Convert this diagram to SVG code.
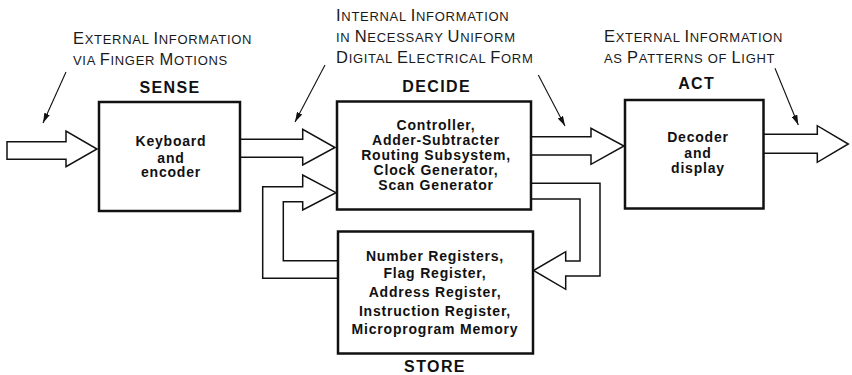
<svg xmlns="http://www.w3.org/2000/svg" width="852" height="375" viewBox="0 0 852 375">
  <style>
    .box { fill: #fff; stroke: #111; stroke-width: 2.5; }
    .pipe { fill: #fff; stroke: #111; stroke-width: 1.5; stroke-linejoin: miter; }
    .ptr { fill: none; stroke: #111; stroke-width: 1.1; }
    .ann { font-family: "Liberation Sans", Arial, sans-serif; font-size: 13px; fill: #1a1a1a; letter-spacing: 0.7px; }
    .ann .cap { font-size: 16.5px; }
    .title { font-family: "Liberation Sans", Arial, sans-serif; font-weight: bold; font-size: 16px; fill: #111; letter-spacing: 1.4px; text-anchor: middle; }
    .body { font-family: "Liberation Sans", Arial, sans-serif; font-weight: bold; font-size: 14px; fill: #111; letter-spacing: 0.8px; text-anchor: middle; }
  </style>
  <defs>
    <marker id="tip" viewBox="0 0 10 6" refX="10" refY="3" markerWidth="10" markerHeight="6" markerUnits="userSpaceOnUse" orient="auto">
      <path d="M0,0 L10,3 L0,6 Z" fill="#111"/>
    </marker>
  </defs>
  <rect width="852" height="375" fill="#fff"/>

  <!-- Annotations -->
  <g id="annotations">
    <text class="ann" x="73" y="44.3"><tspan class="cap">E</tspan>XTERNAL <tspan class="cap">I</tspan>NFORMATION</text>
    <text class="ann" x="73" y="65">VIA <tspan class="cap">F</tspan>INGER <tspan class="cap">M</tspan>OTIONS</text>

    <text class="ann" x="336" y="21"><tspan class="cap">I</tspan>NTERNAL <tspan class="cap">I</tspan>NFORMATION</text>
    <text class="ann" x="336" y="41.7">IN <tspan class="cap">N</tspan>ECESSARY <tspan class="cap">U</tspan>NIFORM</text>
    <text class="ann" x="336" y="63.3"><tspan class="cap">D</tspan>IGITAL <tspan class="cap">E</tspan>LECTRICAL <tspan class="cap">F</tspan>ORM</text>

    <text class="ann" x="604" y="41.7"><tspan class="cap">E</tspan>XTERNAL <tspan class="cap">I</tspan>NFORMATION</text>
    <text class="ann" x="604" y="62.7">AS <tspan class="cap">P</tspan>ATTERNS OF <tspan class="cap">L</tspan>IGHT</text>
  </g>

  <!-- Connectors: hollow data paths and pointer lines -->
  <g id="connectors">
    <polygon class="pipe" points="7,141.7 66,141.7 66,131 97,149 66,166.7 66,159.3 7,159.3"/>
    <polyline class="pipe" points="240,139.3 302.7,139.3 302.7,129.3 335,147.5 302.7,165 302.7,157.3 240,157.3"/>
    <polyline class="pipe" points="531,136.7 591,136.7 591,128.3 624,146 591,164.3 591,155 531,155"/>
    <polyline class="pipe" points="763.5,134.3 817.3,134.3 817.3,125.7 848.3,144 817.3,162.3 817.3,153.3 763.5,153.3"/>
    <!-- DECIDE to STORE loop -->
    <polyline class="pipe" points="531,183.3 600,183.3 600,276 565.7,276 565.7,289.3 533.5,270.5 565.7,251.7 565.7,261 580,261 580,199 531,199"/>
    <!-- STORE to DECIDE loop -->
    <polyline class="pipe" points="338,278.3 262.7,278.3 262.7,186.7 302.7,186.7 302.7,175 336,192.7 302.7,210 302.7,201.7 283.3,201.7 283.3,260.7 338,260.7"/>

    <line class="ptr" x1="66" y1="72" x2="43" y2="123" marker-end="url(#tip)"/>
    <line class="ptr" x1="325" y1="65" x2="295" y2="122" marker-end="url(#tip)"/>
    <line class="ptr" x1="538.3" y1="75" x2="565" y2="126" marker-end="url(#tip)"/>
    <line class="ptr" x1="775" y1="68.3" x2="798.3" y2="125" marker-end="url(#tip)"/>
  </g>

  <g id="sense">
    <text class="title" x="170" y="92.7">SENSE</text>
    <rect class="box" x="99" y="102" width="141" height="109"/>
    <text class="body" x="171" y="145.5">Keyboard</text>
    <text class="body" x="171" y="162.5">and</text>
    <text class="body" x="171" y="177">encoder</text>
  </g>

  <g id="decide">
    <text class="title" x="436.7" y="91.7">DECIDE</text>
    <rect class="box" x="337" y="101.5" width="194" height="108"/>
    <text class="body" x="436" y="130">Controller,</text>
    <text class="body" x="436" y="144.7">Adder-Subtracter</text>
    <text class="body" x="436" y="159.7">Routing Subsystem,</text>
    <text class="body" x="436" y="175">Clock Generator,</text>
    <text class="body" x="436" y="190">Scan Generator</text>
  </g>

  <g id="act">
    <text class="title" x="696.7" y="89.3">ACT</text>
    <rect class="box" x="625" y="100" width="138.5" height="108.5"/>
    <text class="body" x="698" y="141.7">Decoder</text>
    <text class="body" x="698" y="158">and</text>
    <text class="body" x="698" y="173.3">display</text>
  </g>

  <g id="store">
    <rect class="box" x="338" y="231.5" width="195" height="122"/>
    <text class="body" x="435" y="260.7">Number Registers,</text>
    <text class="body" x="435" y="278.3">Flag Register,</text>
    <text class="body" x="435" y="297.3">Address Register,</text>
    <text class="body" x="435" y="315.7">Instruction Register,</text>
    <text class="body" x="435" y="334">Microprogram Memory</text>
    <text class="title" x="435" y="372">STORE</text>
  </g>
</svg>
